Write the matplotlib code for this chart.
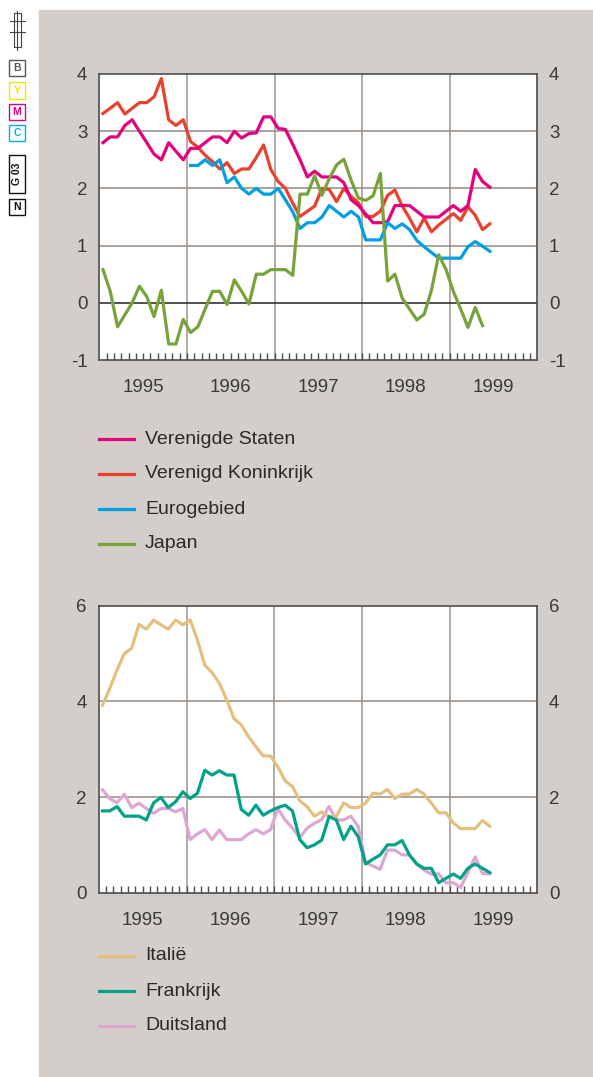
import numpy as np
import matplotlib.pyplot as plt
from matplotlib.lines import Line2D
from matplotlib.patches import Rectangle

plt.rcParams['font.family'] = ['Liberation Sans', 'DejaVu Sans']

# monthly data, Jan 1995 = month 0
us = [2.8, 2.9, 2.9, 3.1, 3.2, 3.0, 2.8, 2.6, 2.5, 2.8, 2.65, 2.5,
      2.7, 2.7, 2.8, 2.9, 2.9, 2.8, 3.0, 2.88, 2.96, 2.97, 3.25, 3.25,
      3.05, 3.03, 2.77, 2.5, 2.2, 2.3, 2.2, 2.2, 2.2, 2.1, 1.8, 1.7,
      1.55, 1.4, 1.4, 1.42, 1.7, 1.7, 1.7, 1.6, 1.5, 1.5, 1.5, 1.6,
      1.7, 1.6, 1.7, 2.33, 2.12, 2.02]
uk = [3.31, 3.4, 3.5, 3.3, 3.4, 3.5, 3.5, 3.6, 3.92, 3.2, 3.1, 3.2,
      2.82, 2.72, 2.58, 2.47, 2.34, 2.45, 2.26, 2.34, 2.34, 2.54, 2.76, 2.33,
      2.12, 2.0, 1.74, 1.51, 1.6, 1.69, 2.0, 1.98, 1.77, 2.0, 1.86, 1.75,
      1.51, 1.51, 1.6, 1.88, 1.97, 1.69, 1.48, 1.24, 1.48, 1.24, 1.36, 1.46,
      1.56, 1.44, 1.68, 1.53, 1.28, 1.38]
euro_start = 12
euro = [2.4, 2.4, 2.5, 2.4, 2.5, 2.1, 2.2, 2.0, 1.9, 2.0, 1.9, 1.9,
        2.0, 1.8, 1.59, 1.3, 1.4, 1.4, 1.5, 1.7, 1.6, 1.5, 1.6, 1.5,
        1.1, 1.1, 1.1, 1.4, 1.3, 1.38, 1.28, 1.09, 0.98, 0.88, 0.78, 0.78,
        0.78, 0.78, 0.98, 1.07, 0.99, 0.9]
japan = [0.58, 0.2, -0.42, -0.21, 0.0, 0.29, 0.11, -0.24, 0.22, -0.72, -0.72, -0.29,
         -0.52, -0.42, -0.11, 0.2, 0.2, -0.03, 0.4, 0.2, -0.02, 0.5, 0.5, 0.58,
         0.58, 0.58, 0.48, 1.9, 1.9, 2.22, 1.88, 2.17, 2.41, 2.51, 2.14, 1.83,
         1.79, 1.87, 2.26, 0.38, 0.5, 0.08, -0.11, -0.3, -0.2, 0.22, 0.84, 0.58,
         0.2, -0.11, -0.43, -0.08, -0.4]

italy = [3.92, 4.27, 4.66, 5.0, 5.11, 5.61, 5.51, 5.7, 5.6, 5.51, 5.7, 5.6,
         5.7, 5.28, 4.76, 4.6, 4.38, 4.03, 3.64, 3.51, 3.26, 3.05, 2.86, 2.86,
         2.63, 2.34, 2.22, 1.92, 1.8, 1.6, 1.69, 1.59, 1.59, 1.88, 1.78, 1.78,
         1.87, 2.08, 2.06, 2.16, 1.97, 2.06, 2.06, 2.16, 2.06, 1.87, 1.67, 1.67,
         1.46, 1.34, 1.34, 1.34, 1.51, 1.39]
france = [1.71, 1.71, 1.8, 1.6, 1.6, 1.6, 1.52, 1.88, 1.99, 1.78, 1.9, 2.11,
          1.97, 2.08, 2.56, 2.46, 2.55, 2.46, 2.46, 1.74, 1.62, 1.83, 1.62, 1.71,
          1.78, 1.83, 1.71, 1.11, 0.94, 1.0, 1.1, 1.59, 1.52, 1.11, 1.39, 1.17,
          0.6, 0.7, 0.79, 1.0, 1.0, 1.09, 0.79, 0.6, 0.51, 0.51, 0.21, 0.3,
          0.39, 0.3, 0.51, 0.6, 0.51, 0.42]
germany = [2.15, 1.97, 1.88, 2.06, 1.78, 1.87, 1.76, 1.66, 1.76, 1.76, 1.69, 1.76,
           1.11, 1.23, 1.32, 1.11, 1.31, 1.11, 1.11, 1.11, 1.23, 1.32, 1.23, 1.32,
           1.76, 1.52, 1.35, 1.15, 1.35, 1.45, 1.53, 1.8, 1.52, 1.52, 1.6, 1.38,
           0.63, 0.56, 0.49, 0.89, 0.89, 0.79, 0.79, 0.6, 0.47, 0.39, 0.39, 0.21,
           0.21, 0.11, 0.42, 0.75, 0.4, 0.4]

years = ['1995', '1996', '1997', '1998', '1999']

W, H = 593, 1077
txt = '#353a3a'
frame = '#4d4d4d'


def fx(x):
    return x / W


def fy(y):
    return 1 - y / H


def months(start, n):
    return 1995 + (np.arange(start, start + n) + 0.5) / 12


def style_axes(ax, ylim, yticks, hlines, zero=False):
    ax.set_zorder(2)
    ax.set_xlim(1995, 2000)
    ax.set_ylim(*ylim)
    ax.set_yticks(yticks)
    ax.set_yticklabels([str(v) for v in yticks])
    ax.tick_params(axis='y', length=0, pad=8.5, labelsize=13.5, labelcolor=txt,
                   labelright=True, right=False)
    # month ticks (major) and year labels at mid-year (minor)
    ax.xaxis.remove_overlapping_locs = False
    ax.set_xticks(1995 + np.arange(1, 60) / 12)
    ax.set_xticklabels([])
    ax.set_xticks(1995.5 + np.arange(5), minor=True)
    ax.set_xticklabels(years, minor=True)
    ax.tick_params(axis='x', which='major', direction='in', length=5, width=1, color=frame)
    ax.tick_params(axis='x', which='minor', length=0, pad=14, labelsize=13.5, labelcolor=txt)
    for s in ax.spines.values():
        s.set_color(frame)
        s.set_linewidth(1.2)
    for yr in [1996, 1997, 1998, 1999]:
        ax.axvline(yr, color='#a39d98', lw=1.2, zorder=1)
    for v in hlines:
        ax.axhline(v, color='#9c928b', lw=1.2, zorder=1)
    if zero:
        ax.axhline(0, color='#333333', lw=1.2, zorder=1)


fig = plt.figure(figsize=(W / 100, H / 100), dpi=100)
fig.patches.append(Rectangle((fx(39), 0), 1 - fx(39), fy(10), transform=fig.transFigure,
                             color='#d3cec9', zorder=-1))

# top chart
ax1 = fig.add_axes([fx(99.3), fy(360), 438 / W, 286 / H])
style_axes(ax1, (-1, 4), [-1, 0, 1, 2, 3, 4], [1, 2, 3], zero=True)
lw = 2.3
ax1.plot(months(0, len(uk)), uk, color='#e8412c', lw=lw, zorder=3)
ax1.plot(months(0, len(us)), us, color='#e6007e', lw=lw, zorder=3)
ax1.plot(months(euro_start, len(euro)), euro, color='#009fe3', lw=lw, zorder=3)
ax1.plot(months(0, len(japan)), japan, color='#76a33a', lw=lw, zorder=3)

# bottom chart
ax2 = fig.add_axes([fx(98.8), fy(892.7), 438.5 / W, 287 / H])
style_axes(ax2, (0, 6), [0, 2, 4, 6], [2, 4])
ax2.plot(months(0, len(germany)), germany, color='#dea6d1', lw=lw, zorder=3)
ax2.plot(months(0, len(italy)), italy, color='#e3c07f', lw=lw, zorder=3)
ax2.plot(months(0, len(france)), france, color='#00a389', lw=lw, zorder=3)

# legends
top_leg = [('Verenigde Staten', '#e6007e'), ('Verenigd Koninkrijk', '#e8412c'),
           ('Eurogebied', '#009fe3'), ('Japan', '#76a33a')]
bot_leg = [('Italië', '#e3c07f'), ('Frankrijk', '#00a389'), ('Duitsland', '#dea6d1')]
for entries, y0 in [(top_leg, 439), (bot_leg, 956)]:
    for k, (lab, col) in enumerate(entries):
        y = y0 + k * 35
        fig.add_artist(Line2D([fx(98.5), fx(133.5)], [fy(y), fy(y)], color=col, lw=2.3,
                              transform=fig.transFigure))
        fig.text(fx(145), fy(y), lab, fontsize=14, color='#2a2a2a', va='center', ha='left')

# print marks in the margin
mk = '#444444'
fig.add_artist(Rectangle((fx(13.5), fy(47)), 7 / W, 34 / H, fill=False, ec=mk, lw=0.8,
                         transform=fig.transFigure))
fig.add_artist(Line2D([fx(17), fx(17)], [fy(11), fy(50)], color=mk, lw=0.8,
                      transform=fig.transFigure))
for y in [20.5, 31.5]:
    fig.add_artist(Line2D([fx(9.5), fx(25)], [fy(y), fy(y)], color=mk, lw=0.8,
                          transform=fig.transFigure))

boxes = [('B', 60, 76, '#555555'), ('Y', 82.5, 98.5, '#f5e400'), ('M', 104, 120, '#e5007d'),
         ('C', 125, 141, '#00aeef'), ('G 03', 155, 193, '#111111'), ('N', 199, 215, '#111111')]
for lab, y0, y1, col in boxes:
    fig.add_artist(Rectangle((fx(9), fy(y1)), 16 / W, (y1 - y0) / H, fill=False, ec=col,
                             lw=1.0, transform=fig.transFigure))
    rot = 90 if len(lab) > 1 else 0
    fig.text(fx(17), fy((y0 + y1) / 2), lab, fontsize=7.5, fontweight='bold', color=col,
             ha='center', va='center', rotation=rot)

fig.savefig('out.png', dpi=100)
